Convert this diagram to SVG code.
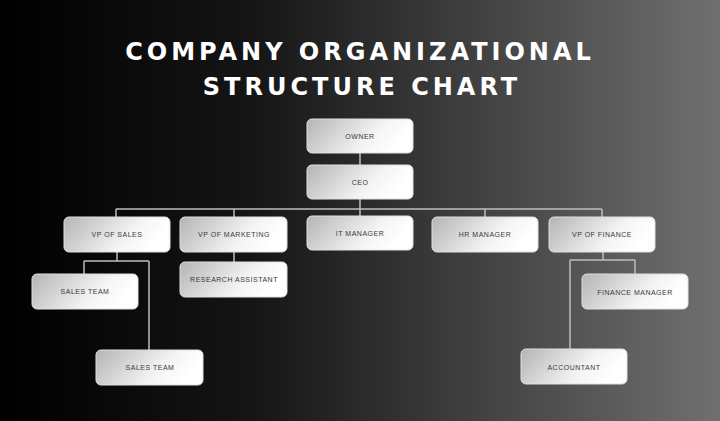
<svg xmlns="http://www.w3.org/2000/svg" width="720" height="421" viewBox="0 0 720 421">
<defs>
<linearGradient id="bg" x1="0" y1="0" x2="1" y2="0">
<stop offset="0" stop-color="#000"/><stop offset="0.35" stop-color="#151515"/><stop offset="1" stop-color="#707070"/>
</linearGradient>
<linearGradient id="box" x1="0" y1="0" x2="1" y2="0.3">
<stop offset="0" stop-color="#b4b4b4"/><stop offset="0.7" stop-color="#f4f4f4"/><stop offset="1" stop-color="#ffffff"/>
</linearGradient>
<style>
.b{fill:url(#box);stroke:#e0e0e0;stroke-width:1}
.t{font-family:"Liberation Sans",Arial,sans-serif;font-size:7px;fill:#3a3a3a;text-anchor:middle;letter-spacing:0.5px}
.h{font-family:"DejaVu Sans","Liberation Sans",sans-serif;font-weight:bold;font-size:24px;fill:#fff;text-anchor:middle;letter-spacing:4px}
.c{fill:none;stroke:#bdbdbd;stroke-width:1.5}
</style>
</defs>
<rect width="720" height="421" fill="url(#bg)"/>
<text class="h" x="360" y="60">COMPANY ORGANIZATIONAL</text>
<text class="h" x="362" y="95">STRUCTURE CHART</text>
<g id="connectors">
<path class="c" d="M360 153V165M360 199V209M116 209H602M116 209V217M234 209V217M360 209V216M485 209V217M602 209V217"/>
<path class="c" d="M117 252V261M84 261H149M84 261V274M149 261V350"/>
<path class="c" d="M234 252V262"/>
<path class="c" d="M603 252V260M570 260H635M635 260V274M570 260V349"/>
</g>
<g id="owner"><rect class="b" x="307" y="119" width="106" height="34" rx="5"/><text class="t" x="360" y="139">OWNER</text></g>
<g id="ceo"><rect class="b" x="307" y="165" width="106" height="34" rx="5"/><text class="t" x="360" y="185">CEO</text></g>
<g id="vpsales"><rect class="b" x="64" y="217" width="106" height="35" rx="5"/><text class="t" x="117" y="237">VP OF SALES</text></g>
<g id="vpmarketing"><rect class="b" x="180" y="217" width="107" height="35" rx="5"/><text class="t" x="234" y="237">VP OF MARKETING</text></g>
<g id="itmanager"><rect class="b" x="307" y="216" width="106" height="34" rx="5"/><text class="t" x="360" y="236">IT MANAGER</text></g>
<g id="hrmanager"><rect class="b" x="432" y="217" width="106" height="35" rx="5"/><text class="t" x="485" y="237">HR MANAGER</text></g>
<g id="vpfinance"><rect class="b" x="549" y="217" width="106" height="35" rx="5"/><text class="t" x="602" y="237">VP OF FINANCE</text></g>
<g id="research"><rect class="b" x="180" y="262" width="107" height="35" rx="5"/><text class="t" x="234" y="282">RESEARCH ASSISTANT</text></g>
<g id="salesteam1"><rect class="b" x="32" y="274" width="106" height="35" rx="5"/><text class="t" x="85" y="294">SALES TEAM</text></g>
<g id="salesteam2"><rect class="b" x="96" y="350" width="107" height="35" rx="5"/><text class="t" x="150" y="370">SALES TEAM</text></g>
<g id="financemanager"><rect class="b" x="582" y="274" width="106" height="35" rx="5"/><text class="t" x="635" y="295">FINANCE MANAGER</text></g>
<g id="accountant"><rect class="b" x="521" y="349" width="106" height="35" rx="5"/><text class="t" x="574" y="370">ACCOUNTANT</text></g>
</svg>
